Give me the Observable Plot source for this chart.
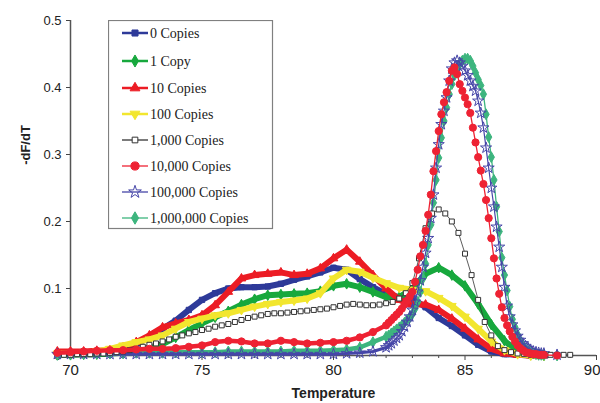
<!DOCTYPE html>
<html><head><meta charset="utf-8">
<script src="https://cdn.jsdelivr.net/npm/d3@7"></script>
<script src="https://cdn.jsdelivr.net/npm/@observablehq/plot@0.6"></script>
<style>
body{margin:0;background:#fff;}
#wrap{position:relative;width:600px;height:403px;overflow:hidden;background:#fff;}
#legend{position:absolute;left:108px;top:20px;}
</style></head><body><div id="wrap"><div id="legend"></div></div>
<script>
// ---- tick labels ----
const xTicks = [70, 75, 80, 85];
const xLast = [90];
const xMinor = [71,72,73,74,76,77,78,79,81,82,83,84,86,87,88,89];
const yTicks = [0, 0.1, 0.2, 0.3, 0.4, 0.5];
const seriesNames = ["0 Copies","1 Copy","10 Copies","100 Copies","1,000 Copies","10,000 Copies","100,000 Copies","1,000,000 Copies"];

// ---- temperature grids (°C) ----
const tempsLow = [69.5,70,70.5,71,71.5,72,72.5,73,73.5,74,74.5,75,75.5,76,76.5,77,77.5,78,78.5,79,79.5,80,80.5,81,81.5,82,82.5,83,83.5,84,84.5,85,85.5,86,86.5,87,87.5,88];
const temps1000 = [69.75,
 70,70.25,70.5,70.75, 71,71.25,71.5,71.75, 72,72.25,72.5,72.75, 73,73.25,73.5,73.75, 74,74.25,74.5,74.75,
 75,75.25,75.5,75.75, 76,76.25,76.5,76.75, 77,77.25,77.5,77.75, 78,78.25,78.5,78.75, 79,79.25,79.5,79.75,
 80,80.25,80.5,80.75, 81,81.25,81.5,81.75, 82,82.25,82.5,82.75, 83,83.25,83.5,83.75, 84,84.25,84.5,84.75,
 85,85.25,85.5,85.75, 86,86.25,86.5,86.75, 87,87.25,87.5,87.75, 88,88.25,88.5,88.75, 89];
const tempsHigh = [69.5,70,70.5,71,71.5,72,72.5,73,73.5,74,74.5,75,75.5,76,76.5,77,77.5,78,78.5,79,79.5,80,80.5,81,81.5,82,
 82.1,82.2,82.3,82.4,82.5,82.6,82.7,82.8,82.9,83.0,
 83.1,83.2,83.3,83.4,83.5,83.6,83.7,83.8,83.9,84.0,
 84.1,84.2,84.3,84.4,84.5,84.6,84.7,84.8,84.9,85.0,
 85.1,85.2,85.3,85.4,85.5,85.6,85.7,85.8,85.9,86.0,
 86.1,86.2,86.3,86.4,86.5,86.6,86.7,86.8,86.9,87.0,
 87.1,87.2,87.3,87.4,87.5,87.6,87.7,87.8,87.9,88.0, 88.5];

// ---- -dF/dT values ----
const v0 = [0.002,0.002,0.002,0.002,0.003,0.006,0.016,0.028,0.04,0.052,0.068,0.083,0.093,0.1,0.102,0.102,0.103,0.107,0.113,0.118,0.124,0.131,0.128,0.114,0.102,0.092,0.087,0.085,0.072,0.056,0.044,0.03,0.016,0.006,0.002,0.001,0,0];
const v1 = [0.001,0.001,0.002,0.002,0.003,0.004,0.006,0.01,0.017,0.027,0.038,0.048,0.057,0.066,0.076,0.084,0.09,0.091,0.092,0.093,0.096,0.104,0.107,0.102,0.095,0.087,0.087,0.1,0.122,0.131,0.12,0.104,0.077,0.046,0.022,0.006,0.001,0];
const v10 = [0.006,0.006,0.006,0.007,0.008,0.012,0.02,0.03,0.042,0.048,0.053,0.06,0.075,0.095,0.115,0.12,0.122,0.124,0.12,0.122,0.13,0.145,0.158,0.14,0.12,0.1,0.083,0.076,0.076,0.068,0.055,0.04,0.024,0.01,0.003,0.001,0,0];
const v100 = [0.003,0.003,0.004,0.006,0.01,0.015,0.02,0.024,0.03,0.04,0.05,0.055,0.06,0.063,0.068,0.073,0.077,0.08,0.082,0.085,0.093,0.115,0.128,0.125,0.116,0.108,0.101,0.098,0.096,0.086,0.074,0.058,0.04,0.021,0.008,0.002,0,0];
const v1000 = [0.001,
 0.001,0.002,0.002,0.002, 0.003,0.003,0.004,0.005, 0.006,0.008,0.010,0.013, 0.016,0.018,0.021,0.024, 0.028,0.030,0.033,0.035,
 0.038,0.040,0.043,0.045, 0.047,0.050,0.053,0.056, 0.058,0.060,0.062,0.063, 0.063,0.064,0.065,0.066, 0.067,0.068,0.069,0.070,
 0.072,0.074,0.076,0.077, 0.076,0.075,0.075,0.076, 0.078,0.080,0.085,0.093, 0.108,0.145,0.190,0.212, 0.218,0.212,0.200,0.183,
 0.152,0.120,0.083,0.050, 0.030,0.014,0.008,0.005, 0.003,0.002,0.001,0.001, 0.001,0.001,0.001,0.001, 0.001];
const v10000 = [0.004,0.005,0.006,0.007,0.008,0.008,0.009,0.01,0.01,0.011,0.013,0.015,0.02,0.022,0.021,0.018,0.018,0.022,0.02,0.018,0.019,0.02,0.022,0.027,0.035,0.045,
 0.049,0.053,0.057,0.061,0.065,0.07,0.076,0.082,0.088,0.095,
 0.11,0.128,0.148,0.165,0.186,0.21,0.24,0.275,0.305,0.335,
 0.36,0.378,0.393,0.41,0.425,0.43,0.42,0.405,0.395,0.385,
 0.375,0.362,0.34,0.318,0.296,0.276,0.256,0.232,0.205,0.175,
 0.145,0.115,0.092,0.072,0.056,0.045,0.036,0.028,0.021,0.015,
 0.011,0.008,0.005,0.004,0.003,0.002,0.002,0.001,0.001,0.001, 0];
const v100000 = [0.002,0.002,0.002,0.002,0.002,0.002,0.002,0.002,0.002,0.002,0.002,0.002,0.002,0.002,0.002,0.002,0.002,0.002,0.002,0.002,0.002,0.002,0.003,0.004,0.006,0.012,
 0.015,0.018,0.022,0.026,0.03,0.036,0.043,0.05,0.058,0.068,
 0.08,0.095,0.112,0.132,0.153,0.175,0.205,0.24,0.28,0.315,
 0.345,0.365,0.385,0.41,0.428,0.437,0.44,0.437,0.432,0.425,
 0.418,0.41,0.402,0.395,0.38,0.362,0.34,0.31,0.28,0.25,
 0.222,0.192,0.162,0.132,0.102,0.074,0.058,0.046,0.037,0.029,
 0.023,0.018,0.014,0.011,0.008,0.006,0.005,0.004,0.003,0.003, 0.001];
const v1000000 = [0.001,0.002,0.002,0.003,0.003,0.003,0.004,0.004,0.004,0.005,0.005,0.005,0.005,0.006,0.006,0.006,0.006,0.006,0.007,0.007,0.007,0.008,0.009,0.012,0.02,0.028,
 0.03,0.033,0.036,0.039,0.042,0.045,0.049,0.053,0.057,0.062,
 0.07,0.08,0.095,0.115,0.137,0.165,0.195,0.228,0.262,0.295,
 0.325,0.35,0.37,0.39,0.405,0.418,0.428,0.435,0.44,0.443,
 0.443,0.44,0.432,0.422,0.412,0.403,0.39,0.36,0.326,0.296,
 0.262,0.222,0.185,0.146,0.12,0.097,0.073,0.054,0.042,0.031,
 0.022,0.015,0.01,0.007,0.005,0.003,0.002,0.001,0.001,0.001, 0];

// ---- styles per series ----
const styles = [
  {name: seriesNames[0], t: tempsLow, v: v0, color: "#2e3a99", symbol: "square", fill: "#2e3a99", r: 3, width: 6},
  {name: seriesNames[1], t: tempsLow, v: v1, color: "#17a83d", symbol: "diamond", fill: "#17a83d", r: 3.2, width: 6},
  {name: seriesNames[2], t: tempsLow, v: v10, color: "#ec1c24", symbol: "triangle", fill: "#ec1c24", r: 3.2, width: 6},
  {name: seriesNames[3], t: tempsLow, v: v100, color: "#f2e62e", symbol: "triangle", fill: "#f2e62e", r: 3.2, width: 6, rotate: 180},
  {name: seriesNames[4], t: temps1000, v: v1000, color: "#333333", symbol: "square", fill: "white", r: 2.8, width: 0.8},
  {name: seriesNames[5], t: tempsHigh, v: v10000, color: "#ee2233", symbol: "circle", fill: "#ee2233", r: 3.6, width: 1.3, low: 4.5},
  {name: seriesNames[6], t: tempsHigh, v: v100000, color: "#4646a8", symbol: "star", fill: "none", r: 3.5, width: 1.2, low: 3},
  {name: seriesNames[7], t: tempsHigh, v: v1000000, color: "#3db57e", symbol: "diamond", fill: "#3db57e", r: 3.3, width: 1.3, low: 4.5}
];
const rowsOf = s => s.t.map((t, i) => ({t, v: s.v[i], series: s.name}));

const drawOrder = [0, 1, 2, 3, 7, 6, 4, 5];
const seriesMarks = [];
for (const k of drawOrder) {
  const s = styles[k];
  const rows = rowsOf(s);
  if (s.low) seriesMarks.push(Plot.line(rows.filter(d => d.t <= 82.2), {x: "t", y: "v", stroke: s.color, strokeWidth: s.low}));
  seriesMarks.push(Plot.line(rows, {x: "t", y: "v", stroke: s.color, strokeWidth: s.width}));
  const dotOpts = {x: "t", y: "v", symbol: s.symbol, r: s.r, fill: s.fill, stroke: s.color, strokeWidth: 1};
  if (s.rotate) dotOpts.rotate = s.rotate;
  seriesMarks.push(Plot.dot(rows, dotOpts));
}

const chart = Plot.plot({
  width: 600, height: 403,
  marginLeft: 70, marginRight: 4, marginTop: 20, marginBottom: 48,
  x: {domain: [70, 90]},
  y: {domain: [0, 0.5]},
  style: {fontFamily: "'Liberation Sans', Arial, sans-serif", color: "#222", background: "white"},
  marks: [
    Plot.axisX({ticks: xTicks, tickSize: 5, tickPadding: 4, fontSize: 15, label: null, stroke: "#444"}),
    Plot.axisX({ticks: xLast, tickSize: 5, tickFormat: () => "", label: null, stroke: "#444"}),
    Plot.text(xLast, {x: d => d, text: d => String(d), frameAnchor: "bottom", textAnchor: "end", lineAnchor: "top", dy: 9, dx: 4, fontSize: 15}),
    Plot.axisX({ticks: xMinor, tickSize: 3, tickFormat: () => "", label: null, stroke: "#444"}),
    Plot.axisY({ticks: yTicks, tickSize: 4, tickPadding: 5, fontSize: 13, label: null, stroke: "#444",
      tickFormat: d => d === 0 ? "0" : d.toFixed(1)}),
    Plot.ruleX([70], {stroke: "#555", strokeWidth: 1.5}),
    Plot.ruleY([0], {stroke: "#555", strokeWidth: 1.5}),
    ...seriesMarks,
    Plot.text(["-dF/dT"], {text: d => d, frameAnchor: "left", textAnchor: "middle", lineAnchor: "middle", dx: -45, dy: -43, rotate: -90, fontWeight: "bold", fontSize: 13}),
    Plot.text(["Temperature"], {text: d => d, frameAnchor: "bottom", textAnchor: "middle", lineAnchor: "middle", dy: 38, fontWeight: "bold", fontSize: 14})
  ]
});
document.getElementById("wrap").prepend(chart);

// ---- legend (inside plot area) ----
const lg = d3.select("#legend").append("svg").attr("width", 166).attr("height", 210);
lg.append("rect").attr("x", 0.5).attr("y", 0.5).attr("width", 164).attr("height", 208)
  .attr("fill", "white").attr("stroke", "#808080").attr("stroke-width", 1.2);
const rowY = [13, 41, 68, 94, 120, 146, 172, 198];
const symMap = {square: d3.symbolSquare, diamond: d3.symbolDiamond, triangle: d3.symbolTriangle, circle: d3.symbolCircle, star: d3.symbolStar};
styles.forEach((s, i) => {
  const g = lg.append("g").attr("transform", `translate(0,${rowY[i]})`);
  g.append("line").attr("x1", 14).attr("x2", 40).attr("y1", 0).attr("y2", 0)
    .attr("stroke", s.color).attr("stroke-width", s.width >= 5 ? 2.5 : 1.3);
  g.append("path").attr("d", d3.symbol(symMap[s.symbol], Math.PI * s.r * s.r * 1.3)())
    .attr("transform", `translate(27,0) rotate(${s.rotate || 0})`)
    .attr("fill", s.fill).attr("stroke", s.color).attr("stroke-width", 1);
  g.append("text").attr("x", 42).attr("y", 0).attr("dy", "0.35em")
    .attr("font-family", "'Liberation Serif', 'Times New Roman', serif").attr("font-size", 14)
    .attr("fill", "#222").text(s.name);
});
</script>
</body></html>
